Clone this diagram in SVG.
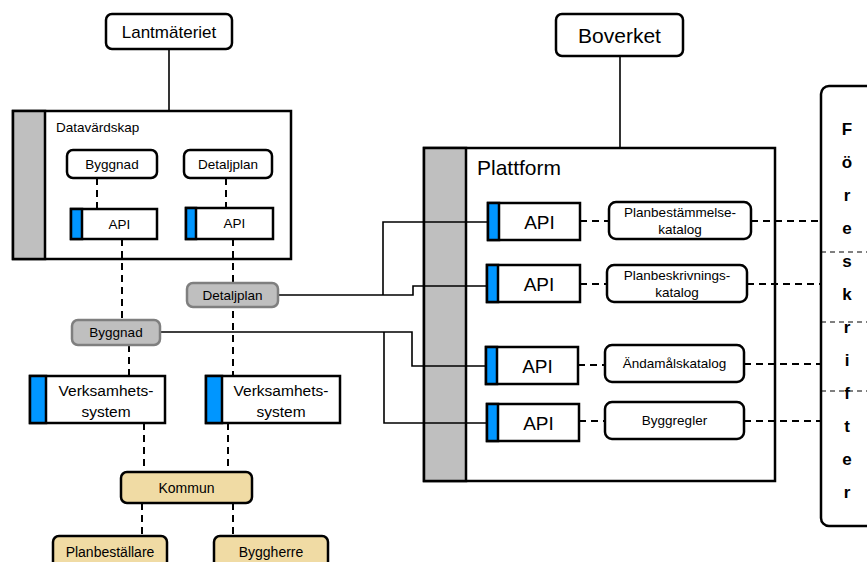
<svg xmlns="http://www.w3.org/2000/svg" width="867" height="562" viewBox="0 0 867 562">
<style>
text{font-family:"Liberation Sans",Arial,sans-serif;fill:#000;text-anchor:middle}
.box{fill:#fff;stroke:#000;stroke-width:2.5}
.bar{fill:#BFBFBF;stroke:#000;stroke-width:2.5}
.blue{fill:#0096FF;stroke:#000;stroke-width:2.5}
.gray{fill:#BFBFBF;stroke:#7F7F7F;stroke-width:2.5}
.tan{fill:#F0DBA4;stroke:#000;stroke-width:2.5}
.solid{fill:none;stroke:#000;stroke-width:1.6}
.dash{fill:none;stroke:#000;stroke-width:2;stroke-dasharray:7 5}
.thin{fill:none;stroke:#000;stroke-width:1;stroke-dasharray:5 4}
.s13{font-size:13.5px}
.s14{font-size:14px}
.s15{font-size:15.5px}
.big{font-size:21px}
.api{font-size:19px}
.fl{font-size:17px;font-weight:bold}
</style>
<rect width="867" height="562" fill="#fff"/>

<g id="datavardskap">
<rect class="box" x="13" y="111" width="278" height="148"/>
<rect class="bar" x="13" y="111" width="32" height="148"/>
<text class="s13" x="56" y="132" style="text-anchor:start">Datavärdskap</text>
</g>

<g id="plattform">
<rect class="box" x="424" y="148" width="351" height="333"/>
<rect class="bar" x="424" y="148" width="42" height="333"/>
<text class="big" x="477" y="175" style="text-anchor:start">Plattform</text>
</g>

<g id="foreskrifter">
<rect class="box" x="821" y="86" width="70" height="440" rx="8"/>
<line class="thin" x1="821" y1="252" x2="867" y2="252"/>
<line class="thin" x1="821" y1="322" x2="867" y2="322"/>
<line class="thin" x1="821" y1="391" x2="867" y2="391"/>
<text class="fl" x="847" y="135">F</text>
<text class="fl" x="847" y="168">ö</text>
<text class="fl" x="847" y="201">r</text>
<text class="fl" x="847" y="234">e</text>
<text class="fl" x="847" y="267">s</text>
<text class="fl" x="847" y="300">k</text>
<text class="fl" x="847" y="333">r</text>
<text class="fl" x="847" y="366">i</text>
<text class="fl" x="847" y="399">f</text>
<text class="fl" x="847" y="432">t</text>
<text class="fl" x="847" y="465">e</text>
<text class="fl" x="847" y="498">r</text>
</g>

<g id="connectors">
<line class="solid" x1="169" y1="49" x2="169" y2="111"/>
<line class="solid" x1="620" y1="56" x2="620" y2="148"/>
<path class="solid" d="M278,295 H413 V286 H487 M383,295 V222 H488"/>
<path class="solid" d="M160,332 H412 V366 H486 M384,332 V423 H487"/>
<line class="dash" x1="97" y1="178" x2="97" y2="209"/>
<line class="dash" x1="226" y1="178" x2="226" y2="208"/>
<line class="dash" x1="122" y1="239" x2="122" y2="320"/>
<line class="dash" x1="233" y1="239" x2="233" y2="376"/>
<line class="dash" x1="129" y1="345" x2="129" y2="376"/>
<line class="dash" x1="144" y1="423" x2="144" y2="472"/>
<line class="dash" x1="228" y1="423" x2="228" y2="472"/>
<line class="dash" x1="142" y1="503" x2="142" y2="536"/>
<line class="dash" x1="233" y1="503" x2="233" y2="536"/>
<line class="dash" x1="580" y1="221" x2="609" y2="221"/>
<line class="dash" x1="580" y1="284" x2="607" y2="284"/>
<line class="dash" x1="578" y1="365" x2="605" y2="365"/>
<line class="dash" x1="579" y1="421" x2="605" y2="421"/>
<line class="dash" x1="751" y1="221" x2="821" y2="221"/>
<line class="dash" x1="747" y1="284" x2="821" y2="284"/>
<line class="dash" x1="744" y1="364" x2="821" y2="364"/>
<line class="dash" x1="744" y1="421" x2="821" y2="421"/>
</g>

<g id="lantmateriet">
<rect class="box" x="106" y="14" width="126" height="35" rx="6"/>
<text style="font-size:17px" x="169" y="37.5">Lantmäteriet</text>
</g>

<g id="boverket">
<rect class="box" x="556" y="14" width="127" height="42" rx="6"/>
<text class="big" x="619.5" y="42.5">Boverket</text>
</g>

<g id="byggnad-dv">
<rect class="box" x="67" y="150" width="90" height="28" rx="6"/>
<text class="s13" x="112" y="168.7">Byggnad</text>
</g>

<g id="detaljplan-dv">
<rect class="box" x="184" y="150" width="88" height="28" rx="6"/>
<text class="s13" x="228" y="168.7">Detaljplan</text>
</g>

<g id="api-dv-1">
<rect class="box" x="71" y="209" width="86" height="30"/>
<rect class="blue" x="71" y="209" width="11" height="30"/>
<text class="s13" x="119.5" y="228.7">API</text>
</g>

<g id="api-dv-2">
<rect class="box" x="186" y="208" width="87" height="31"/>
<rect class="blue" x="186" y="208" width="10" height="31"/>
<text class="s13" x="234.5" y="228.2">API</text>
</g>

<g id="detaljplan-gray">
<rect class="gray" x="187" y="283" width="91" height="24" rx="6"/>
<text class="s13" x="232.5" y="299.7">Detaljplan</text>
</g>

<g id="byggnad-gray">
<rect class="gray" x="72" y="320" width="88" height="25" rx="6"/>
<text class="s13" x="116" y="337.2">Byggnad</text>
</g>

<g id="verksamhet-1">
<rect class="box" x="30" y="376" width="135" height="47"/>
<rect class="blue" x="30" y="376" width="16" height="47"/>
<text class="s15" x="106" y="395.5">Verksamhets-</text>
<text class="s15" x="106" y="416.5">system</text>
</g>

<g id="verksamhet-2">
<rect class="box" x="206" y="376" width="134" height="47"/>
<rect class="blue" x="206" y="376" width="16" height="47"/>
<text class="s15" x="281" y="395.5">Verksamhets-</text>
<text class="s15" x="281" y="416.5">system</text>
</g>

<g id="kommun">
<rect class="tan" x="121" y="472" width="131" height="31" rx="6"/>
<text class="s14" x="186.5" y="492.5">Kommun</text>
</g>

<g id="planbestallare">
<rect class="tan" x="53" y="536" width="114" height="40" rx="6"/>
<text class="s14" x="110" y="557">Planbeställare</text>
</g>

<g id="byggherre">
<rect class="tan" x="214" y="536" width="114" height="40" rx="6"/>
<text class="s14" x="271" y="557">Byggherre</text>
</g>

<g id="api-p-1">
<rect class="box" x="488" y="203" width="92" height="37"/>
<rect class="blue" x="488" y="203" width="11" height="37"/>
<text class="api" x="539.5" y="228.5">API</text>
</g>

<g id="api-p-2">
<rect class="box" x="487" y="265" width="93" height="37"/>
<rect class="blue" x="487" y="265" width="11" height="37"/>
<text class="api" x="539" y="290.5">API</text>
</g>

<g id="api-p-3">
<rect class="box" x="486" y="347" width="92" height="37"/>
<rect class="blue" x="486" y="347" width="11" height="37"/>
<text class="api" x="537.5" y="372.5">API</text>
</g>

<g id="api-p-4">
<rect class="box" x="487" y="404" width="92" height="37"/>
<rect class="blue" x="487" y="404" width="11" height="37"/>
<text class="api" x="538.5" y="429.5">API</text>
</g>

<g id="planbestammelsekatalog">
<rect class="box" x="609" y="202" width="142" height="37" rx="7"/>
<text class="s13" x="680" y="216.5">Planbestämmelse-</text>
<text class="s13" x="680" y="234">katalog</text>
</g>

<g id="planbeskrivningskatalog">
<rect class="box" x="607" y="265" width="140" height="37" rx="7"/>
<text class="s13" x="677" y="279.5">Planbeskrivnings-</text>
<text class="s13" x="677" y="297">katalog</text>
</g>

<g id="andamalskatalog">
<rect class="box" x="605" y="345" width="139" height="37" rx="7"/>
<text class="s13" x="674.5" y="368.2">Ändamålskatalog</text>
</g>

<g id="byggregler">
<rect class="box" x="605" y="402" width="139" height="37" rx="7"/>
<text class="s13" x="674.5" y="425.2">Byggregler</text>
</g>
</svg>
